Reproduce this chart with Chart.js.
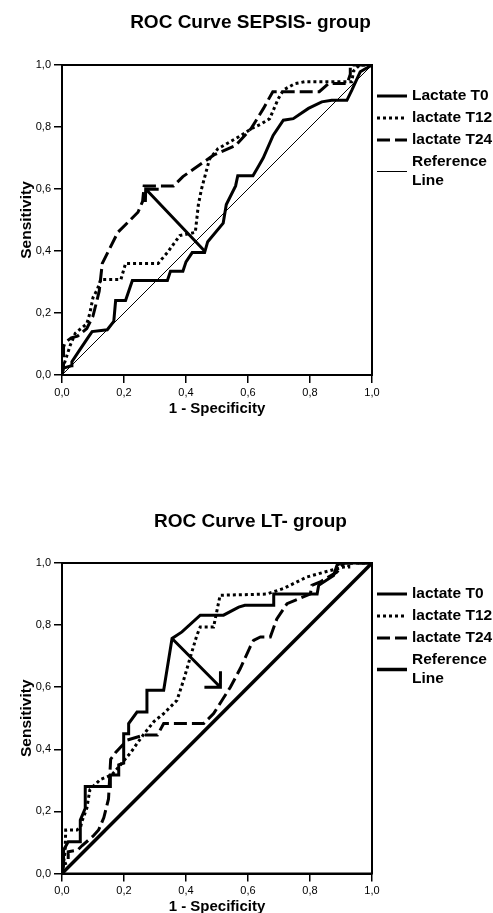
<!DOCTYPE html>
<html lang="en">
<head>
  <meta charset="UTF-8">
  <title>ROC Curves</title>
  <script src="https://cdn.jsdelivr.net/npm/chart.js"></script>
  <style>
    body { margin: 0; background: #fff; overflow: hidden; }
    .chart-box { position: absolute; left: 0; width: 493px; }
    #sepsisBox { top: 0; height: 430px; }
    #ltBox { top: 480px; height: 445px; }
  </style>
</head>
<body>
  <div class="chart-box" id="sepsisBox"><canvas id="sepsisChart" width="493" height="430"></canvas></div>
  <div class="chart-box" id="ltBox"><canvas id="ltChart" width="493" height="445"></canvas></div>

  <script>
    // ---- data (1 - specificity, sensitivity) ----
    var seriesNamesSepsis = ['Lactate T0', 'lactate T12', 'lactate T24', 'Reference Line'];
    var seriesNamesLT = ['lactate T0', 'lactate T12', 'lactate T24', 'Reference Line'];
    var refX = [0, 1];
    var refY = [0, 1];

    var sepsisT0X = [0, 0.005, 0.03, 0.032, 0.054, 0.086, 0.097, 0.146, 0.167, 0.173, 0.205, 0.227, 0.34, 0.35, 0.39, 0.40, 0.42, 0.46, 0.47, 0.52, 0.53, 0.56, 0.567, 0.616, 0.632, 0.649, 0.681, 0.714, 0.746, 0.795, 0.838, 0.87, 0.919, 0.935, 0.962, 1];
    var sepsisT0Y = [0, 0.022, 0.03, 0.043, 0.076, 0.124, 0.14, 0.146, 0.173, 0.24, 0.24, 0.305, 0.305, 0.335, 0.335, 0.365, 0.395, 0.395, 0.43, 0.49, 0.55, 0.61, 0.643, 0.643, 0.67, 0.70, 0.773, 0.822, 0.827, 0.86, 0.881, 0.886, 0.886, 0.919, 0.978, 1];
    var sepsisT12X = [0, 0.005, 0.015, 0.027, 0.043, 0.08, 0.09, 0.10, 0.114, 0.125, 0.19, 0.205, 0.31, 0.34, 0.38, 0.43, 0.44, 0.45, 0.476, 0.503, 0.578, 0.611, 0.643, 0.67, 0.697, 0.714, 0.751, 0.783, 0.935, 0.94, 0.96, 1];
    var sepsisT12Y = [0, 0.03, 0.06, 0.097, 0.135, 0.165, 0.20, 0.25, 0.276, 0.308, 0.308, 0.36, 0.36, 0.395, 0.45, 0.46, 0.55, 0.60, 0.697, 0.73, 0.773, 0.795, 0.81, 0.827, 0.89, 0.919, 0.94, 0.946, 0.946, 0.98, 1, 1];
    var sepsisT24X = [0, 0.005, 0.005, 0.01, 0.03, 0.05, 0.08, 0.10, 0.12, 0.13, 0.15, 0.18, 0.22, 0.245, 0.26, 0.265, 0.36, 0.39, 0.49, 0.56, 0.61, 0.65, 0.68, 0.83, 0.86, 0.92, 0.93, 0.93, 1];
    var sepsisT24Y = [0, 0.03, 0.09, 0.105, 0.12, 0.125, 0.15, 0.19, 0.27, 0.36, 0.40, 0.46, 0.50, 0.525, 0.56, 0.61, 0.61, 0.64, 0.71, 0.74, 0.795, 0.86, 0.914, 0.914, 0.94, 0.94, 0.97, 1, 1];
    var sepsisArrow = [0.46, 0.40, 0.27, 0.60]; // from (x, y) to (x, y)

    var ltT0X = [0, 0.005, 0.005, 0.02, 0.059, 0.059, 0.075, 0.075, 0.156, 0.156, 0.183, 0.183, 0.199, 0.199, 0.215, 0.215, 0.242, 0.274, 0.274, 0.328, 0.355, 0.387, 0.446, 0.521, 0.57, 0.59, 0.683, 0.683, 0.823, 0.828, 0.876, 0.887, 0.90, 1];
    var ltT0Y = [0, 0.03, 0.075, 0.102, 0.102, 0.172, 0.21, 0.28, 0.28, 0.317, 0.317, 0.35, 0.355, 0.45, 0.45, 0.483, 0.52, 0.52, 0.59, 0.59, 0.757, 0.778, 0.832, 0.832, 0.858, 0.864, 0.864, 0.90, 0.90, 0.928, 0.96, 0.993, 1, 1];
    var ltT12X = [0, 0.005, 0.01, 0.012, 0.048, 0.06, 0.065, 0.08, 0.09, 0.10, 0.124, 0.16, 0.18, 0.222, 0.243, 0.265, 0.297, 0.328, 0.371, 0.392, 0.414, 0.435, 0.446, 0.489, 0.51, 0.66, 0.715, 0.79, 0.844, 0.908, 0.925, 0.925, 1];
    var ltT12Y = [0, 0.035, 0.07, 0.14, 0.14, 0.15, 0.17, 0.21, 0.27, 0.28, 0.303, 0.317, 0.34, 0.39, 0.42, 0.45, 0.49, 0.515, 0.558, 0.622, 0.697, 0.767, 0.794, 0.794, 0.896, 0.90, 0.918, 0.955, 0.97, 0.987, 0.987, 1, 1];
    var ltT24X = [0, 0.005, 0.02, 0.02, 0.05, 0.065, 0.10, 0.118, 0.135, 0.15, 0.157, 0.173, 0.211, 0.265, 0.308, 0.328, 0.457, 0.489, 0.543, 0.575, 0.607, 0.618, 0.64, 0.672, 0.693, 0.726, 0.801, 0.806, 0.833, 0.887, 0.91, 1];
    var ltT24Y = [0, 0.03, 0.035, 0.07, 0.075, 0.09, 0.12, 0.14, 0.18, 0.24, 0.368, 0.39, 0.43, 0.446, 0.446, 0.483, 0.483, 0.515, 0.60, 0.66, 0.73, 0.751, 0.762, 0.762, 0.82, 0.869, 0.90, 0.928, 0.939, 0.971, 1, 1];
    var ltArrow = [0.355, 0.757, 0.511, 0.60];

    var tickValues = [0, 0.2, 0.4, 0.6, 0.8, 1.0];

    Chart.defaults.font.family = "'Liberation Sans', Arial, sans-serif";
    Chart.defaults.color = '#000';

    function pts(xs, ys) {
      return xs.map(function(x, i) { return { x: x, y: ys[i] }; });
    }

    function lineSet(label, xs, ys, width, dash) {
      return {
        label: label,
        data: pts(xs, ys),
        showLine: true,
        borderColor: '#000',
        backgroundColor: '#000',
        borderWidth: width,
        borderDash: dash,
        pointRadius: 0,
        tension: 0,
        fill: false
      };
    }

    // title, box round the plot area, the arrow and the legend on the right
    var rocExtras = {
      id: 'rocExtras',
      afterDatasetsDraw: function(chart, args, opts) {
        var ctx = chart.ctx, a = chart.chartArea;
        var xs = chart.scales.x, ys = chart.scales.y;
        ctx.save();
        ctx.fillStyle = '#000';
        ctx.font = 'bold 19px ' + Chart.defaults.font.family;
        ctx.textAlign = 'center';
        ctx.textBaseline = 'middle';
        ctx.fillText(opts.title, chart.width / 2 + 4, opts.titleY);

        ctx.strokeStyle = '#000';
        ctx.lineWidth = 2;
        ctx.strokeRect(a.left, a.top, a.right - a.left, a.bottom - a.top);

        // arrow
        var ar = opts.arrow;
        var x1 = xs.getPixelForValue(ar[0]), y1 = ys.getPixelForValue(ar[1]);
        var x2 = xs.getPixelForValue(ar[2]), y2 = ys.getPixelForValue(ar[3]);
        var ang = Math.atan2(y2 - y1, x2 - x1);
        ctx.lineWidth = 3;
        ctx.lineCap = 'butt';
        ctx.beginPath();
        ctx.moveTo(x1, y1);
        ctx.lineTo(x2, y2);
        ctx.moveTo(x2 - opts.head * Math.cos(ang - Math.PI / 4), y2 - opts.head * Math.sin(ang - Math.PI / 4));
        ctx.lineTo(x2, y2);
        ctx.lineTo(x2 - opts.head * Math.cos(ang + Math.PI / 4), y2 - opts.head * Math.sin(ang + Math.PI / 4));
        ctx.stroke();

        // legend
        ctx.font = 'bold 15.5px ' + Chart.defaults.font.family;
        ctx.textAlign = 'left';
        var cy = a.top + 31;
        chart.data.datasets.forEach(function(ds) {
          var lines = ctx.measureText(ds.label).width > 100 ? ds.label.split(' ') : [ds.label];
          var sy = cy + (lines.length - 1) * 19 / 2;
          ctx.lineWidth = ds.borderWidth;
          ctx.setLineDash(ds.borderDash || []);
          ctx.beginPath();
          ctx.moveTo(a.right + 5, sy);
          ctx.lineTo(a.right + 35, sy);
          ctx.stroke();
          ctx.setLineDash([]);
          lines.forEach(function(t, i) {
            ctx.fillText(t, a.right + 40, cy + i * 19);
          });
          cy += (lines.length - 1) * 19 + 22;
        });
        ctx.restore();
      }
    };

    function makeRoc(id, title, names, series, refWidth, arrow, head, layout) {
      var ctx = document.getElementById(id).getContext('2d');
      return new Chart(ctx, {
        type: 'scatter',
        data: {
          datasets: [
            lineSet(names[0], series[0][0], series[0][1], 3, []),
            lineSet(names[1], series[1][0], series[1][1], 3, [3, 3]),
            lineSet(names[2], series[2][0], series[2][1], 3, [13, 5]),
            lineSet(names[3], refX, refY, refWidth, [])
          ]
        },
        options: {
          responsive: false,
          animation: false,
          layout: { padding: { left: 0, right: 121, top: layout.top, bottom: 0 } },
          plugins: {
            legend: { display: false },
            tooltip: { enabled: false },
            title: { display: false },
            rocExtras: { arrow: arrow, head: head, title: title, titleY: layout.titleY }
          },
          scales: {
            x: {
              type: 'linear',
              min: 0, max: 1,
              afterFit: function(s) { s.height = layout.xHeight; },
              afterBuildTicks: function(s) { s.ticks = tickValues.map(function(v) { return { value: v }; }); },
              ticks: {
                font: { size: 11 },
                padding: 3,
                maxRotation: 0,
                callback: function(v) { return v.toFixed(1).replace('.', ','); }
              },
              grid: { drawOnChartArea: false, drawTicks: true, tickLength: 8, color: '#000', lineWidth: 1.5 },
              border: { display: true, color: '#000', width: 2 },
              title: {
                display: true,
                text: '1 - Specificity',
                font: { size: 15, weight: 'bold' },
                padding: { top: 0, bottom: layout.xTitleBottom }
              }
            },
            y: {
              type: 'linear',
              min: 0, max: 1,
              afterFit: function(s) { s.width = 62; },
              afterBuildTicks: function(s) { s.ticks = tickValues.map(function(v) { return { value: v }; }); },
              ticks: {
                font: { size: 11 },
                padding: 3,
                callback: function(v) { return v.toFixed(1).replace('.', ','); }
              },
              grid: { drawOnChartArea: false, drawTicks: true, tickLength: 8, color: '#000', lineWidth: 1.5 },
              border: { display: true, color: '#000', width: 2 },
              title: {
                display: true,
                text: 'Sensitivity',
                font: { size: 15.5, weight: 'bold' },
                padding: { top: 17, bottom: 0 }
              }
            }
          }
        },
        plugins: [rocExtras]
      });
    }

    makeRoc('sepsisChart', 'ROC Curve SEPSIS- group', seriesNamesSepsis,
      [[sepsisT0X, sepsisT0Y], [sepsisT12X, sepsisT12Y], [sepsisT24X, sepsisT24Y]],
      1, sepsisArrow, 13,
      { top: 65, titleY: 23, xHeight: 55, xTitleBottom: 12 });

    makeRoc('ltChart', 'ROC Curve LT- group', seriesNamesLT,
      [[ltT0X, ltT0Y], [ltT12X, ltT12Y], [ltT24X, ltT24Y]],
      3.5, ltArrow, 16,
      { top: 83, titleY: 41.5, xHeight: 51.5, xTitleBottom: 9 });
  </script>
</body>
</html>
